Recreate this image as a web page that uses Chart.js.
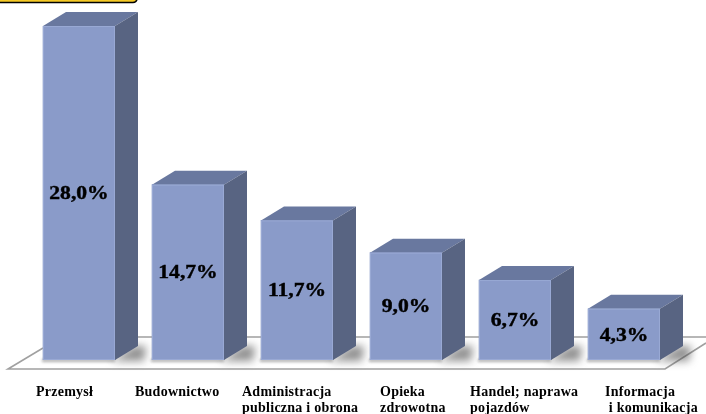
<!DOCTYPE html>
<html>
<head>
<meta charset="utf-8">
<style>
html, body { margin: 0; padding: 0; background: #fff; }
#wrap { position: relative; width: 706px; height: 414px; overflow: hidden; }
</style>
<script src="https://cdn.jsdelivr.net/npm/chart.js@4"></script>
</head>
<body>
<div id="wrap"><canvas id="chart" width="706" height="414"></canvas></div>
<script>
var categories = [
    ['Przemysł'],
    ['Budownictwo'],
    ['Administracja', 'publiczna i obrona'],
    ['Opieka', 'zdrowotna'],
    ['Handel; naprawa', 'pojazdów'],
    ['Informacja', ' i komunikacja']
];
var shares = [28.0, 14.7, 11.7, 9.0, 6.7, 4.3];
var labelLefts = [36, 135, 242, 380, 470, 605];

var FONT = '"Liberation Serif", "Times New Roman", serif';
var DX = 23, DY = 14;

function poly(ctx, pts, fill) {
    ctx.beginPath();
    pts.forEach(function (p, i) {
        if (i) ctx.lineTo(p[0], p[1]); else ctx.moveTo(p[0], p[1]);
    });
    ctx.closePath();
    if (fill) { ctx.fillStyle = fill; ctx.fill(); }
}

// floor and the yellow box cut off at the top edge
var backdrop = {
    id: 'backdrop',
    beforeDatasetsDraw: function (chart) {
        var ctx = chart.ctx;
        var base = chart.scales.y.getPixelForValue(0);
        ctx.save();
        ctx.strokeStyle = '#a0a0a0';
        ctx.lineWidth = 1.6;
        ctx.beginPath();
        ctx.moveTo(43, base - 12);
        ctx.lineTo(8, base + 9);
        ctx.lineTo(665, base + 9);
        ctx.lineTo(706, base - 17);
        ctx.moveTo(43, base - 23);
        ctx.lineTo(706, base - 23);
        ctx.stroke();

        ctx.beginPath();
        ctx.roundRect(-10, -14, 147, 16.5, 4);
        ctx.fillStyle = '#f5c925';
        ctx.fill();
        ctx.strokeStyle = '#000';
        ctx.lineWidth = 1.6;
        ctx.stroke();
        ctx.restore();
    }
};

// 3d faces on top of the library's own bars
var box3d = {
    id: 'box3d',
    afterDatasetsDraw: function (chart) {
        var ctx = chart.ctx;
        chart.getDatasetMeta(0).data.forEach(function (bar, i) {
            var l = bar.x - bar.width / 2, r = bar.x + bar.width / 2;
            var t = bar.y, b = bar.base;

            ctx.save();
            ctx.filter = 'blur(4px)';
            poly(ctx, [[r - 4, b + 1], [r + DX + 6, b + 1], [r + DX + 8, b - DY], [r + DX - 4, b - DY]], 'rgba(70,70,70,0.6)');
            ctx.filter = 'blur(1.5px)';
            poly(ctx, [[l - 1, b - 1], [r, b - 1], [r, b + 2], [l - 1, b + 2]], 'rgba(90,90,90,0.5)');
            ctx.restore();

            poly(ctx, [[l, t], [l + DX, t - DY], [r + DX, t - DY], [r, t]], '#69789f');
            poly(ctx, [[r, t], [r + DX, t - DY], [r + DX, b - DY], [r, b]], '#586482');

            ctx.fillStyle = '#8a9bc9';
            ctx.fillRect(l, t, r - l, b - t);
            ctx.strokeStyle = '#99a9d4';
            ctx.lineWidth = 1;
            ctx.strokeRect(l + 0.5, t + 0.5, r - l - 1, b - t - 1);

            // the picture's numbers are stretched sideways
            ctx.save();
            ctx.translate(bar.x, (t + b) / 2 + 1.5);
            ctx.scale(1.2, 1);
            ctx.fillStyle = '#000';
            ctx.strokeStyle = '#000';
            ctx.lineWidth = 0.4;
            ctx.font = 'bold 18px ' + FONT;
            ctx.textAlign = 'center';
            ctx.textBaseline = 'middle';
            var text = shares[i].toFixed(1).replace('.', ',') + '%';
            ctx.fillText(text, 0, 0);
            ctx.strokeText(text, 0, 0);
            ctx.restore();
        });
    }
};

// category names sit left aligned under the bars, not centred on them
var catLabels = {
    id: 'catLabels',
    afterDraw: function (chart) {
        var ctx = chart.ctx;
        ctx.save();
        ctx.fillStyle = '#000';
        ctx.font = 'bold 14px ' + FONT;
        ctx.letterSpacing = '0.25px';
        ctx.textAlign = 'left';
        ctx.textBaseline = 'middle';
        categories.forEach(function (lines, i) {
            lines.forEach(function (line, k) {
                ctx.fillText(line, labelLefts[i], 392 + k * 16);
            });
        });
        ctx.restore();
    }
};

new Chart(document.getElementById('chart'), {
    type: 'bar',
    data: {
        labels: categories,
        datasets: [{
            data: shares,
            backgroundColor: '#8a9bc9',
            barThickness: 72
        }]
    },
    options: {
        responsive: false,
        animation: false,
        layout: { padding: { left: 24.5, right: 27.5, top: 26, bottom: 54 } },
        plugins: { legend: { display: false }, tooltip: { enabled: false } },
        scales: {
            x: { display: false },
            y: { display: false, min: 0, max: 28 }
        }
    },
    plugins: [backdrop, box3d, catLabels]
});
</script>
</body>
</html>
